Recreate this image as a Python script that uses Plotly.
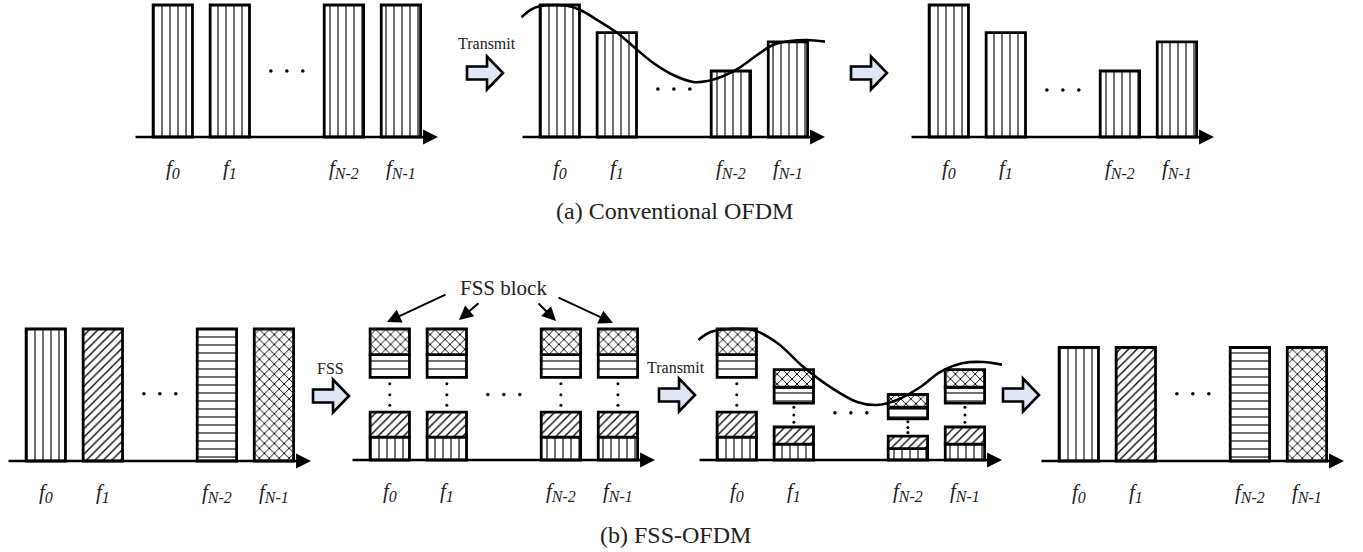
import plotly.graph_objects as go

W, H = 1363, 552

# ---------------- data ----------------
subcarrier_slots = [0, 1, 3, 4]            # slot 2 is the "..." gap
subcarrier_labels = ["0", "1", "N-2", "N-1"]

# (a) Conventional OFDM
tx_amplitude_a = [1.0, 1.0, 1.0, 1.0]
rx_amplitude_a = [1.0, 0.79, 0.50, 0.72]
channel_curve_a_x = [-0.675, -0.52, -0.34, -0.11, 0.13, 0.36, 0.66, 1.01, 1.36, 1.64,
                     1.99, 2.34, 2.59, 2.87, 3.17, 3.46, 3.74, 4.04, 4.34, 4.69]
channel_curve_a_y = [0.906, 0.962, 0.992, 1.0, 0.995, 0.962, 0.886, 0.788, 0.659, 0.561,
                     0.47, 0.417, 0.424, 0.462, 0.53, 0.621, 0.697, 0.727, 0.735, 0.72]

# (b) FSS-OFDM
tx_amplitude_b = [1.0, 1.0, 1.0, 1.0]
symbol_patterns = ["|", "/", "-", "x"]          # data symbol carried on f0, f1, fN-2, fN-1
fss_piece_symbol = [0, 1, None, 2, 3]           # stacked pieces in each FSS block (None = "..." gap)
fss_piece_height = [0.175, 0.19, 0.265, 0.175, 0.195]
channel_gain_b = [1.0, 0.69, 0.50, 0.69]
channel_curve_b_x = [-0.675, -0.46, -0.11, 0.29, 0.71, 1.17, 1.64, 2.11, 2.46, 2.81,
                     3.22, 3.57, 3.97, 4.32, 4.68]
channel_curve_b_y = [0.916, 0.977, 1.0, 0.992, 0.893, 0.71, 0.557, 0.443, 0.42, 0.458,
                     0.557, 0.672, 0.74, 0.748, 0.725]
rx_amplitude_b = [0.86, 0.86, 0.86, 0.86]

# ---------------- layout constants ----------------
FONT = "Liberation Serif"
X_RANGE = [-0.68, 4.65]
PANEL_W = 304
BAR_W = 0.69
panels = {
    # name: (left px, axis-line px, px per unit, top px of domain, bottom px of domain, ellipsis height)
    "a1": (134, 137, 132, 0, 175, 0.50),
    "a2": (521, 137, 132, 0, 175, 0.364),
    "a3": (910, 137, 132, 0, 175, 0.356),
    "b1": (7, 461, 132, 285, 512, 0.51),
    "b2": (351, 460, 131, 285, 512, 0.50),
    "b3": (698, 460, 131, 285, 512, 0.36),
    "b4": (1040, 461, 132, 285, 512, 0.51),
}
pattern_size = {"|": 8, "/": 6, "-": 8, "x": 7}
pattern_solid = {"|": 0.14, "/": 0.22, "-": 0.14, "x": 0.25}

fig = go.Figure()
layout_axes = {}
annotations = []
shapes = []
axis_id = {}

for i, (name, (left, axy, unit, top, bot, ell)) in enumerate(panels.items(), start=1):
    sfx = "" if i == 1 else str(i)
    axis_id[name] = ("x" + sfx, "y" + sfx)
    layout_axes["xaxis" + sfx] = dict(domain=[left / W, (left + PANEL_W) / W], range=X_RANGE,
                                      visible=False, fixedrange=True, anchor="y" + sfx)
    layout_axes["yaxis" + sfx] = dict(domain=[1 - bot / H, 1 - top / H],
                                      range=[(axy - bot) / unit, (axy - top) / unit],
                                      visible=False, fixedrange=True, anchor="x" + sfx)
    xa, ya = axis_id[name]
    # frequency axis with arrow
    annotations.append(dict(xref=xa, yref=ya, axref=xa, ayref=ya, x=X_RANGE[1], y=0,
                            ax=X_RANGE[0], ay=0, text="", showarrow=True, arrowhead=2,
                            arrowsize=1.15, arrowwidth=2.6, arrowcolor="black", standoff=0))
    # subcarrier labels
    for s, lab in zip(subcarrier_slots, subcarrier_labels):
        annotations.append(dict(xref=xa, yref=ya, x=s, y=0, yshift=-32, showarrow=False,
                                text=f"<i>f</i><sub><span style=\"font-size:16px\"><i>{lab}</i></span></sub>",
                                font=dict(family=FONT, size=21, color="#222")))
    # horizontal ellipsis
    fig.add_trace(go.Scatter(x=[2 - 0.28, 2, 2 + 0.28], y=[ell] * 3, mode="markers",
                             marker=dict(size=3.6, color="black"), xaxis=xa, yaxis=ya,
                             hoverinfo="skip", showlegend=False, cliponaxis=False))


def bar(panel, heights, bases, shapes_list):
    xa, ya = axis_id[panel]
    sizes = [pattern_size[s] for s in shapes_list]
    solid = [pattern_solid[s] for s in shapes_list]
    fig.add_trace(go.Bar(
        x=subcarrier_slots, y=heights, base=bases, width=BAR_W, xaxis=xa, yaxis=ya,
        marker=dict(color="white", line=dict(color="black", width=2.8),
                    pattern=dict(shape=shapes_list, size=sizes, solidity=solid,
                                 fgcolor="black", bgcolor="white", fillmode="replace")),
        showlegend=False, hoverinfo="skip", cliponaxis=False))


# ---- (a) ----
bar("a1", tx_amplitude_a, [0] * 4, ["|"] * 4)
bar("a2", rx_amplitude_a, [0] * 4, ["|"] * 4)
bar("a3", rx_amplitude_a, [0] * 4, ["|"] * 4)
xa, ya = axis_id["a2"]
fig.add_trace(go.Scatter(x=channel_curve_a_x, y=channel_curve_a_y, mode="lines",
                         line=dict(color="black", width=2.6, shape="spline"),
                         xaxis=xa, yaxis=ya, hoverinfo="skip", showlegend=False, cliponaxis=False))

# ---- (b) ----
bar("b1", tx_amplitude_b, [0] * 4, symbol_patterns)
bar("b4", rx_amplitude_b, [0] * 4, symbol_patterns)


def fss_stack(panel, gains):
    xa, ya = axis_id[panel]
    cum = 0.0
    for sym, h in zip(fss_piece_symbol, fss_piece_height):
        if sym is None:
            # vertical ellipsis in the gap of each FSS block
            for s, g in zip(subcarrier_slots, gains):
                fig.add_trace(go.Scatter(x=[s] * 3, y=[(cum + h * f) * g for f in (0.2, 0.5, 0.82)],
                                         mode="markers", marker=dict(size=3, color="black"),
                                         xaxis=xa, yaxis=ya, hoverinfo="skip",
                                         showlegend=False, cliponaxis=False))
        else:
            bar(panel, [h * g for g in gains], [cum * g for g in gains],
                [symbol_patterns[sym]] * 4)
        cum += h


fss_stack("b2", [1.0] * 4)
fss_stack("b3", channel_gain_b)
xa, ya = axis_id["b3"]
fig.add_trace(go.Scatter(x=channel_curve_b_x, y=channel_curve_b_y, mode="lines",
                         line=dict(color="black", width=2.6, shape="spline"),
                         xaxis=xa, yaxis=ya, hoverinfo="skip", showlegend=False, cliponaxis=False))


# ---- block arrows ----
def px(x):
    return x / W


def py(y):
    return 1 - y / H


def fat_arrow(x0, cy, body_len=20, total=36, body_h=6.5, head_h=16.5):
    pts = [(x0, cy - body_h), (x0 + body_len, cy - body_h), (x0 + body_len, cy - head_h),
           (x0 + total, cy), (x0 + body_len, cy + head_h), (x0 + body_len, cy + body_h),
           (x0, cy + body_h)]
    path = "M " + " L ".join(f"{px(a):.5f},{py(b):.5f}" for a, b in pts) + " Z"
    shapes.append(dict(type="path", path=path, xref="paper", yref="paper",
                       fillcolor="#dfe7f4", line=dict(color="black", width=2.6)))


fat_arrow(467, 73)
fat_arrow(851, 73)
fat_arrow(313, 396)
fat_arrow(659, 395)
fat_arrow(1003, 395)


def text(x, y, s, size, color="#222"):
    annotations.append(dict(xref="paper", yref="paper", x=px(x), y=py(y), text=s,
                            showarrow=False, xanchor="center", yanchor="middle",
                            font=dict(family=FONT, size=size, color=color)))


text(487, 43, "Transmit", 16)
text(676, 367, "Transmit", 16)
text(330, 368, "FSS", 16)
text(503, 288, "FSS block", 21)
text(674, 211, "(a) Conventional OFDM", 24)
text(675, 535, "(b) FSS-OFDM", 24)

# arrows from "FSS block" label
for (tx, ty), (sx, sy) in [((387, 322), (447, 294)), ((459, 320), (480, 302)),
                           ((556, 321), (537, 302)), ((613, 323), (557, 297))]:
    annotations.append(dict(xref="paper", yref="paper", x=px(tx), y=py(ty), ax=sx - tx, ay=sy - ty,
                            text="", showarrow=True, arrowhead=2, arrowsize=1.4, arrowwidth=2,
                            arrowcolor="black", standoff=0))

fig.update_layout(width=W, height=H, margin=dict(l=0, r=0, t=0, b=0),
                  paper_bgcolor="white", plot_bgcolor="white", barmode="overlay",
                  showlegend=False, annotations=annotations, shapes=shapes, **layout_axes)

fig.write_html("out.html", config={"displayModeBar": False},
               post_script="document.body.style.margin='0';document.body.style.overflow='hidden';")
